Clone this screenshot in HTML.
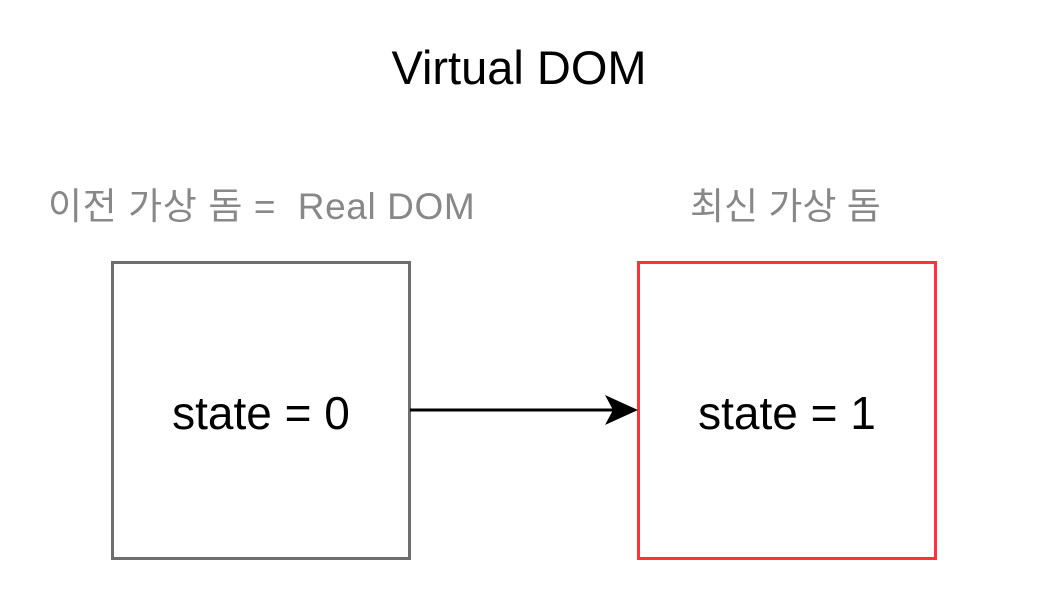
<!DOCTYPE html>
<html><head><meta charset="utf-8"><style>
html,body{margin:0;padding:0;background:#fff;}
body{width:1048px;height:596px;position:relative;overflow:hidden;font-family:"Liberation Sans","Noto Sans CJK KR",sans-serif;}
.t{position:absolute;white-space:nowrap;}
</style></head><body>
<div class="t" style="left:0;width:1038px;text-align:center;top:40px;font-size:47px;color:#000;">Virtual DOM</div>
<div class="t" style="left:48px;top:176px;font-size:37px;color:#888;letter-spacing:0.6px;">이전 가상 돔 =&nbsp; Real DOM</div>
<div class="t" style="left:690px;top:176px;font-size:37px;color:#888;">최신 가상 돔</div>
<div style="position:absolute;left:111px;top:261px;width:294px;height:293px;border:3px solid #6e6e6e;"></div>
<div style="position:absolute;left:637px;top:261px;width:294px;height:293px;border:3px solid #f33;"></div>
<div class="t" style="left:111px;width:300px;text-align:center;top:386px;font-size:46px;">state = 0</div>
<div class="t" style="left:637px;width:300px;text-align:center;top:386px;font-size:46px;">state = 1</div>
<svg style="position:absolute;left:0;top:0" width="1048" height="596">
<line x1="410" y1="410" x2="615" y2="410" stroke="#000" stroke-width="3"/>
<path d="M638,410 L605,395 L613,410 L605,425 Z" fill="#000"/>
</svg>
</body></html>
